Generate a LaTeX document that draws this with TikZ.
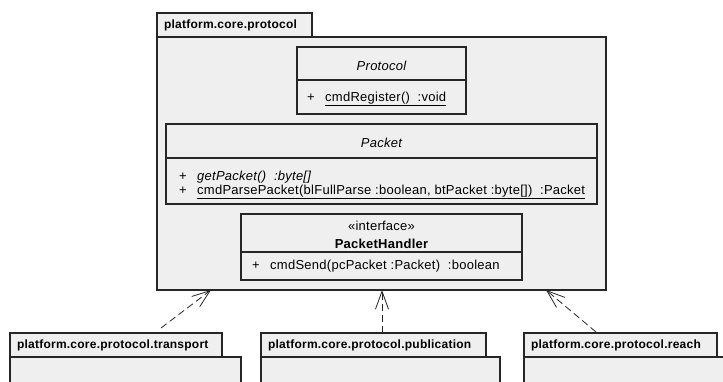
\documentclass[tikz,border=0pt]{standalone}
\usepackage{fontspec}
\setmainfont{Liberation Sans}
\newfontfamily\umlfont[LetterSpace=2]{Liberation Sans}
\newfontfamily\tabfont[LetterSpace=2]{Liberation Sans}
\usetikzlibrary{arrows.meta,positioning}
\definecolor{umlfill}{HTML}{EFEFEF}
\definecolor{umlline}{HTML}{262626}
\tikzset{
  pkgbody/.style={draw=umlline, fill=umlfill, line width=1.3pt, anchor=north west, inner sep=0pt, outer sep=0pt},
  pkgtab/.style={pkgbody, minimum height=24pt, inner xsep=7pt, align=left,
    font=\tabfont\bfseries\fontsize{12}{14}\selectfont},
  clsbox/.style={draw=umlline, fill=umlfill, line width=1.3pt, anchor=north west, inner sep=0pt, outer sep=0pt,
    font=\umlfont\fontsize{13}{15}\selectfont},
  clshead/.style={clsbox, text height=13pt, text depth=0pt},
  member/.style={anchor=base west, inner sep=0pt, font=\umlfont\fontsize{13}{15}\selectfont},
  dep/.style={draw=umlline, line width=0.8pt, dash pattern=on 7pt off 4pt,
    -{Straight Barb[length=18pt,width=13pt,line width=0.8pt]}},
}
\newcommand{\vis}{\makebox[18pt][l]{+}}
\begin{document}
\begin{tikzpicture}[x=1pt,y=-1pt]
        \useasboundingbox (0,0) rectangle (723,381);
        \clip (0,0) rectangle (723,381);
        \node[pkgbody, minimum width=449pt, minimum height=253pt] (core) at (157,37) {};
        \node[pkgtab, text width=141pt] (coreTab) at (157,13) {platform.core.protocol};

        \node[clshead, minimum width=169pt, minimum height=33pt] (protoHead) at (297,47) {\itshape Protocol};
        \node[clsbox, minimum width=169pt, minimum height=34pt] (protoBody) at (protoHead.south west) {};
        \node[member] (protoReg) at (307,101) {\vis\underline{cmdRegister()\ \ :void}};

        \node[clshead, minimum width=431pt, minimum height=34pt] (packetHead) at (166,124) {\itshape Packet};
        \node[clsbox, minimum width=431pt, minimum height=46pt] (packetBody) at (packetHead.south west) {};
        \node[member] (packetGet) at (179,180) {\vis\textit{getPacket()\ \ :byte[]}};
        \node[member] (packetParse) at (179,194) {\vis\underline{cmdParsePacket(blFullParse :boolean, btPacket :byte[])\ \ :Packet}};

        \node[clsbox, minimum width=281pt, minimum height=38pt, align=center] (handlerHead) at (241,214)
          {\rule{0pt}{14pt}«interface»\\[3pt]\bfseries PacketHandler};
        \node[clsbox, minimum width=281pt, minimum height=28pt] (handlerBody) at (handlerHead.south west) {};
        \node[member] (handlerSend) at (252,269) {\vis cmdSend(pcPacket :Packet)\ \ :boolean};

        \node[pkgbody, minimum width=231pt, minimum height=40pt] (trans) at (10,357) {};
        \node[pkgtab, text width=198pt] (transTab) at (10,333) {platform.core.protocol.transport};
        \node[pkgbody, minimum width=239pt, minimum height=40pt] (pub) at (261,357) {};
        \node[pkgtab, text width=211pt] (pubTab) at (261,333) {platform.core.protocol.publication};
        \node[pkgbody, minimum width=210pt, minimum height=40pt] (reach) at (524,357) {};
        \node[pkgtab, text width=179pt] (reachTab) at (524,333) {platform.core.protocol.reach};

        \coordinate (transFrom) at ([xshift=151pt,yshift=5pt]transTab.north west);
        \coordinate (pubFrom) at ([xshift=121pt]pubTab.north west);
        \coordinate (reachFrom) at ([xshift=72pt,yshift=1pt]reachTab.north west);
        \draw[dep] (transFrom) -- ([xshift=54pt]core.south west);
        \draw[dep] (pubFrom) -- ([xshift=225pt]core.south west);
        \draw[dep] (reachFrom) -- ([xshift=389pt]core.south west);
\end{tikzpicture}
\end{document}
